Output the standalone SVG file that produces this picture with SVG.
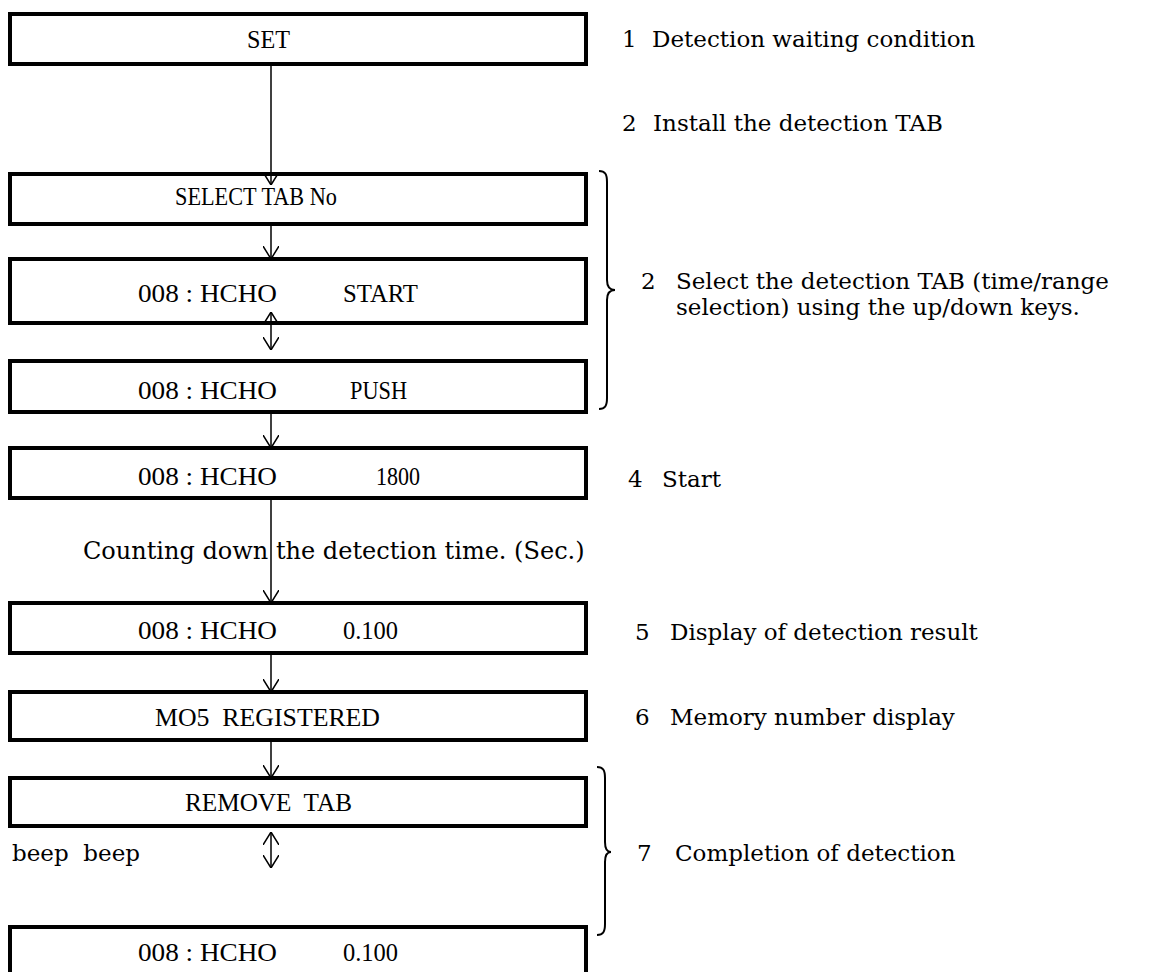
<svg xmlns="http://www.w3.org/2000/svg" width="1156" height="972" viewBox="0 0 1156 972">
<defs>
<style>
.box{fill:#fff;stroke:#000;stroke-width:4}
.bt{font-family:"Liberation Serif","Times New Roman",serif;font-size:26px;fill:#000}
.rt{font-family:"DejaVu Serif",serif;font-size:23px;fill:#000}
.con{stroke:#000;stroke-width:1.5;fill:none}
.brace{stroke:#000;stroke-width:2;fill:none}
</style>
<marker id="v" viewBox="0 0 13 16" refX="13" refY="8" markerWidth="13" markerHeight="16" markerUnits="userSpaceOnUse" orient="auto-start-reverse">
<path d="M0,0 L13,8 L0,16" fill="none" stroke="#000" stroke-width="1.5"/>
</marker>
</defs>
<rect width="1156" height="972" fill="#fff"/>

<g id="n-set"><rect class="box" x="10" y="14" width="576" height="50"/><text class="bt" x="247" y="48" textLength="43" lengthAdjust="spacingAndGlyphs">SET</text></g>
<g id="n-select"><rect class="box" x="10" y="174" width="576" height="50"/><text class="bt" x="175" y="205" textLength="162" lengthAdjust="spacingAndGlyphs">SELECT TAB No</text></g>
<g id="n-start"><rect class="box" x="10" y="259" width="576" height="64"/><text class="bt" x="138" y="302" textLength="139" lengthAdjust="spacingAndGlyphs">008 : HCHO</text><text class="bt" x="343" y="302" textLength="75" lengthAdjust="spacingAndGlyphs">START</text></g>
<g id="n-push"><rect class="box" x="10" y="361" width="576" height="51"/><text class="bt" x="138" y="399" textLength="139" lengthAdjust="spacingAndGlyphs">008 : HCHO</text><text class="bt" x="350" y="399" textLength="57" lengthAdjust="spacingAndGlyphs">PUSH</text></g>
<g id="n-1800"><rect class="box" x="10" y="448" width="576" height="50"/><text class="bt" x="138" y="485" textLength="139" lengthAdjust="spacingAndGlyphs">008 : HCHO</text><text class="bt" x="376" y="485" textLength="44" lengthAdjust="spacingAndGlyphs">1800</text></g>
<g id="n-result"><rect class="box" x="10" y="603" width="576" height="50"/><text class="bt" x="138" y="639" textLength="139" lengthAdjust="spacingAndGlyphs">008 : HCHO</text><text class="bt" x="343" y="639" textLength="55" lengthAdjust="spacingAndGlyphs">0.100</text></g>
<g id="n-mo5"><rect class="box" x="10" y="692" width="576" height="48"/><text class="bt" x="155" y="726" textLength="225" lengthAdjust="spacingAndGlyphs" xml:space="preserve">MO5  REGISTERED</text></g>
<g id="n-remove"><rect class="box" x="10" y="778" width="576" height="48"/><text class="bt" x="185" y="811" textLength="167" lengthAdjust="spacingAndGlyphs" xml:space="preserve">REMOVE  TAB</text></g>
<g id="n-final"><rect class="box" x="10" y="927" width="576" height="70"/><text class="bt" x="138" y="961" textLength="139" lengthAdjust="spacingAndGlyphs">008 : HCHO</text><text class="bt" x="343" y="961" textLength="55" lengthAdjust="spacingAndGlyphs">0.100</text></g>

<g id="connectors">
<line class="con" x1="271" y1="66" x2="271" y2="185" marker-end="url(#v)"/>
<line class="con" x1="271" y1="226" x2="271" y2="259" marker-end="url(#v)"/>
<line class="con" x1="271" y1="312" x2="271" y2="350" marker-start="url(#v)" marker-end="url(#v)"/>
<line class="con" x1="271" y1="414" x2="271" y2="448" marker-end="url(#v)"/>
<line class="con" x1="271" y1="500" x2="271" y2="603" marker-end="url(#v)"/>
<line class="con" x1="271" y1="655" x2="271" y2="692" marker-end="url(#v)"/>
<line class="con" x1="271" y1="742" x2="271" y2="778" marker-end="url(#v)"/>
<line class="con" x1="271" y1="832" x2="271" y2="868" marker-start="url(#v)" marker-end="url(#v)"/>
</g>

<g id="braces">
<path class="brace" d="M599,171 C605,171 607,174 607,182 L607,280 C607,287 610,290 615,290 C610,290 607,293 607,300 L607,398 C607,406 605,409 599,409"/>
<path class="brace" d="M597,767 C603,767 605,770 605,778 L605,842 C605,849 607,852 611,852 C607,852 605,855 605,862 L605,924 C605,932 603,935 597,935"/>
</g>

<g id="notes">
<text class="rt" x="622" y="47">1<tspan x="652">Detection waiting condition</tspan></text>
<text class="rt" x="622" y="131">2<tspan x="653">Install the detection TAB</tspan></text>
<text class="rt" x="641" y="289">2<tspan x="676">Select the detection TAB (time/range</tspan></text>
<text class="rt" x="676" y="315">selection) using the up/down keys.</text>
<text class="rt" x="628" y="487">4<tspan x="662">Start</tspan></text>
<text class="rt" x="83" y="559" style="font-size:24px">Counting down the detection time. (Sec.)</text>
<text class="rt" x="635" y="640">5<tspan x="670">Display of detection result</tspan></text>
<text class="rt" x="635" y="725">6<tspan x="670">Memory number display</tspan></text>
<text class="rt" x="12" y="861" xml:space="preserve">beep  beep</text>
<text class="rt" x="637" y="861">7<tspan x="675">Completion of detection</tspan></text>
</g>
</svg>
